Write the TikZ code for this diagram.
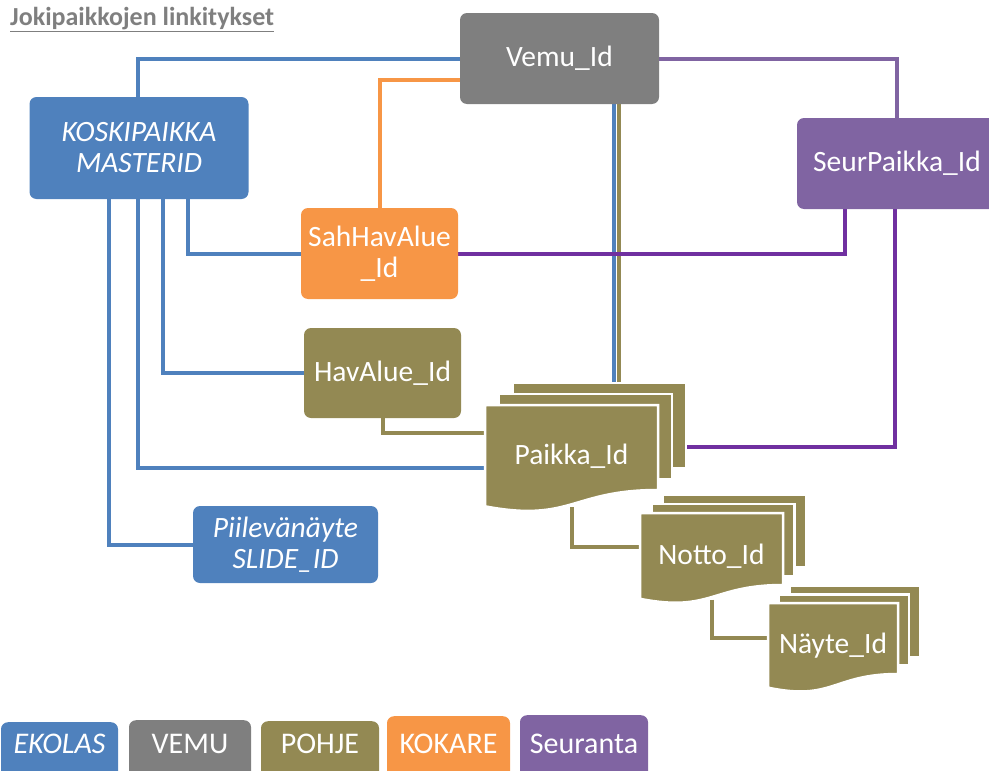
\documentclass[tikz,border=0pt]{standalone}
\usepackage{fontspec}
\setmainfont{Carlito}
\pgfdeclarelayer{background}
\pgfsetlayers{background,main}

\definecolor{ekolas}{HTML}{4F81BD}
\definecolor{vemu}{HTML}{7F7F7F}
\definecolor{pohje}{HTML}{938953}
\definecolor{kokare}{HTML}{F79646}
\definecolor{seuranta}{HTML}{8064A2}
\definecolor{seurline}{HTML}{7030A0}
\definecolor{titlegray}{HTML}{7F7F7F}

\tikzset{
  box/.style={rectangle, rounded corners=7pt, text=white, align=center,
    inner sep=0pt, font=\fontsize{29.5}{31}\selectfont},
  ibox/.style={box, font=\fontsize{29.5}{31}\selectfont\itshape},
  link/.style={line width=4pt},
  docshape/.style={fill=pohje, draw=white, line width=2.5pt},
  doclabel/.style={text=white, inner sep=0pt, font=\fontsize{29.5}{31}\selectfont},
  legendbox/.style={anchor=north, rectangle, rounded corners=7pt, text=white,
    inner xsep=0pt, inner ysep=0pt, text depth=50pt,
    font=\fontsize{30}{32}\selectfont},
  titletext/.style={anchor=base west, inner sep=0pt, text=titlegray,
    font=\fontsize{26}{30}\selectfont\bfseries},
}

% stack of three documents: #1 name, #2 left, #3 top, #4 width,
% #5 depth of the right edge, #6/#7 offset of each back sheet, #8 label
\newcommand\docstack[8]{%
  \begin{scope}[shift={(#2,#3)}]
    \foreach \k in {2,1}
      \path[docshape] ({\k*#6},{-\k*#7}) rectangle ({#4+\k*#6},{#5-\k*#7});
    \path[docshape] (0,0) -- (#4,0) -- (#4,#5)
      .. controls ({0.5*#4},#5) and ({0.5*#4},{1.385*#5}) .. (0,{1.192*#5}) -- cycle;
    \pgfmathsetmacro\dochh{1.2*#5}
    \node[doclabel, minimum width=#4pt, minimum height=\dochh pt]
      (#1) at ({0.5*#4},{0.6*#5}) {#8};
    \coordinate (#1-top) at ({0.5*#4+2*#6},{-2*#7});
  \end{scope}}

\begin{document}
\begin{tikzpicture}[x=1pt, y=-1pt]
\useasboundingbox (0,0) rectangle (989,771);

% title
\node[titletext] (title) at (10,25) {\underline{Jokipaikkojen linkitykset}};

% key boxes
\node[ibox, fill=ekolas, minimum width=219pt, minimum height=102pt] (kosk) at (139,148) {KOSKIPAIKKA\\MASTERID};
\node[box, fill=vemu, minimum width=199pt, minimum height=91pt] (vemu) at (559.5,58.5) {Vemu\_Id};
\node[box, fill=seuranta, minimum width=200pt, minimum height=91pt] (seur) at (897,163.5) {SeurPaikka\_Id};
\node[box, fill=kokare, minimum width=157pt, minimum height=91pt] (sah) at (379.5,253.5) {SahHavAlue\\\_Id};
\node[box, fill=pohje, minimum width=157pt, minimum height=90pt] (hav) at (382.5,373) {HavAlue\_Id};
\node[ibox, fill=ekolas, minimum width=185pt, minimum height=77pt] (piil) at (285.5,544.5) {Piilevänäyte\\SLIDE\_ID};

% document stacks
\docstack{paikka}{485}{405}{173}{85}{14}{11}{Paikka\_Id}
\docstack{notto}{640}{513}{143}{72}{11.5}{9}{Notto\_Id}
\docstack{naeyte}{768}{603}{130}{71}{11}{8.5}{Näyte\_Id}

% legend
\node[legendbox, fill=ekolas, font=\fontsize{30}{32}\selectfont\itshape, minimum width=117pt, text height=31pt] (lgekolas) at (59.5,722) {EKOLAS};
\node[legendbox, fill=vemu, minimum width=122pt, text height=33pt] (lgvemu) at (190,720) {VEMU};
\node[legendbox, fill=pohje, minimum width=118pt, text height=32pt] (lgpohje) at (320,721) {POHJE};
\node[legendbox, fill=kokare, minimum width=123pt, text height=37pt] (lgkokare) at (448.5,716) {KOKARE};
\node[legendbox, fill=seuranta, minimum width=128pt, text height=38pt] (lgseur) at (584,715) {Seuranta};

% connectors
\coordinate (vemublue) at ([xshift=54.5pt]vemu.south);
\coordinate (vemuolive) at ([xshift=59.5pt]vemu.south);
\begin{pgfonlayer}{background}
  \draw[link, ekolas] ([xshift=-1pt]kosk.north) |- (vemu.west);
  \draw[link, ekolas] ([xshift=49pt]kosk.south) |- (sah.west);
  \draw[link, ekolas] ([xshift=24pt]kosk.south) |- (hav.west);
  \draw[link, ekolas] ([xshift=-1pt]kosk.south) |- ([yshift=-12pt]paikka.west);
  \draw[link, ekolas] ([xshift=-30pt]kosk.south) |- (piil.west);
  \draw[link, ekolas] (vemublue) -- (vemublue |- paikka-top);
  \draw[link, pohje] (vemuolive) -- (vemuolive |- paikka-top);
  \draw[link, kokare] (sah.north) |- ([yshift=-21.5pt]vemu.west);
  \draw[link, seuranta] (vemu.east) -| (seur.north);
  \draw[link, seurline] (sah.east) -| ([xshift=-52pt]seur.south);
  \draw[link, seurline] ([xshift=-2pt]seur.south) |- ([yshift=9pt]paikka.east);
  \draw[link, pohje] ([xshift=0.5pt]hav.south) |- ([yshift=23pt]paikka.west);
  \draw[link, pohje] (paikka.south) |- ([yshift=9pt]notto.west);
  \draw[link, pohje] (notto.south) |- ([yshift=7.6pt]naeyte.west);
\end{pgfonlayer}
\end{tikzpicture}
\end{document}
